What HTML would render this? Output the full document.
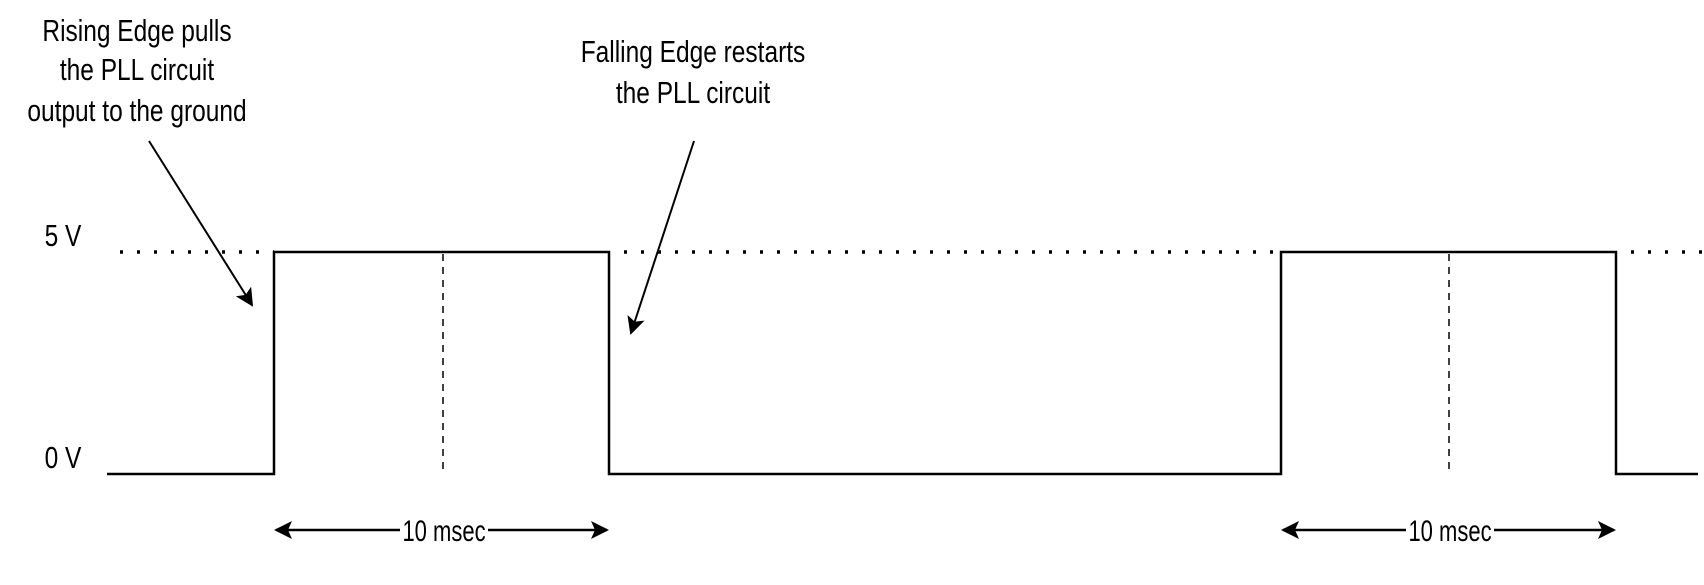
<!DOCTYPE html>
<html><head><meta charset="utf-8"><style>html,body{margin:0;padding:0;background:#fff}svg{display:block}</style></head>
<body>
<svg width="1704" height="585" viewBox="0 0 1704 585" xmlns="http://www.w3.org/2000/svg">
<defs>
<marker id="ah2" markerWidth="18" markerHeight="18" refX="16" refY="9" orient="auto-start-reverse" markerUnits="userSpaceOnUse" viewBox="0 0 18 18">
<path d="M0,0 L18,9 L0,18 L4,9 Z" fill="#000"/>
</marker>
</defs>
<g fill="none" stroke="#000">
<line x1="120" y1="252" x2="274" y2="252" stroke-width="3.5" stroke-dasharray="3 14"/>
<line x1="624" y1="252" x2="1281" y2="252" stroke-width="3.5" stroke-dasharray="3 14"/>
<line x1="1631" y1="252" x2="1704" y2="252" stroke-width="3.5" stroke-dasharray="3 14"/>
<polyline points="107,474 274,474 274,252 609,252 609,474 1281,474 1281,252 1616,252 1616,474 1698,474" stroke-width="2.5"/>
<line x1="443" y1="254" x2="443" y2="474" stroke-width="1.5" stroke-dasharray="7 6"/>
<line x1="1449" y1="254" x2="1449" y2="474" stroke-width="1.5" stroke-dasharray="7 6"/>
<line x1="149" y1="141" x2="252" y2="305" stroke-width="2" marker-end="url(#ah2)"/>
<line x1="694" y1="141" x2="631" y2="333" stroke-width="2" marker-end="url(#ah2)"/>
<line x1="276" y1="530" x2="400" y2="530" stroke-width="2.5" marker-start="url(#ah2)"/>
<line x1="488" y1="530" x2="607" y2="530" stroke-width="2.5" marker-end="url(#ah2)"/>
<line x1="1283" y1="530" x2="1406" y2="530" stroke-width="2.5" marker-start="url(#ah2)"/>
<line x1="1494" y1="530" x2="1614" y2="530" stroke-width="2.5" marker-end="url(#ah2)"/>
</g>
<g font-family="Liberation Sans, sans-serif" fill="#000" text-anchor="middle">
<text font-size="24.5" transform="translate(137,41) scale(1,1.25)">Rising Edge pulls</text>
<text font-size="24.5" transform="translate(137,80) scale(1,1.25)">the PLL circuit</text>
<text font-size="24.5" transform="translate(137,121) scale(1,1.25)">output to the ground</text>
<text font-size="24.5" transform="translate(693,62) scale(1,1.25)">Falling Edge restarts</text>
<text font-size="24.5" transform="translate(693,103) scale(1,1.25)">the PLL circuit</text>
<text font-size="24.5" transform="translate(63,246) scale(1,1.25)">5 V</text>
<text font-size="24.5" transform="translate(63,468) scale(1,1.25)">0 V</text>
<text font-size="22" transform="translate(444,541) scale(1,1.35)">10 msec</text>
<text font-size="22" transform="translate(1450,541) scale(1,1.35)">10 msec</text>
</g>
</svg>
</body></html>
